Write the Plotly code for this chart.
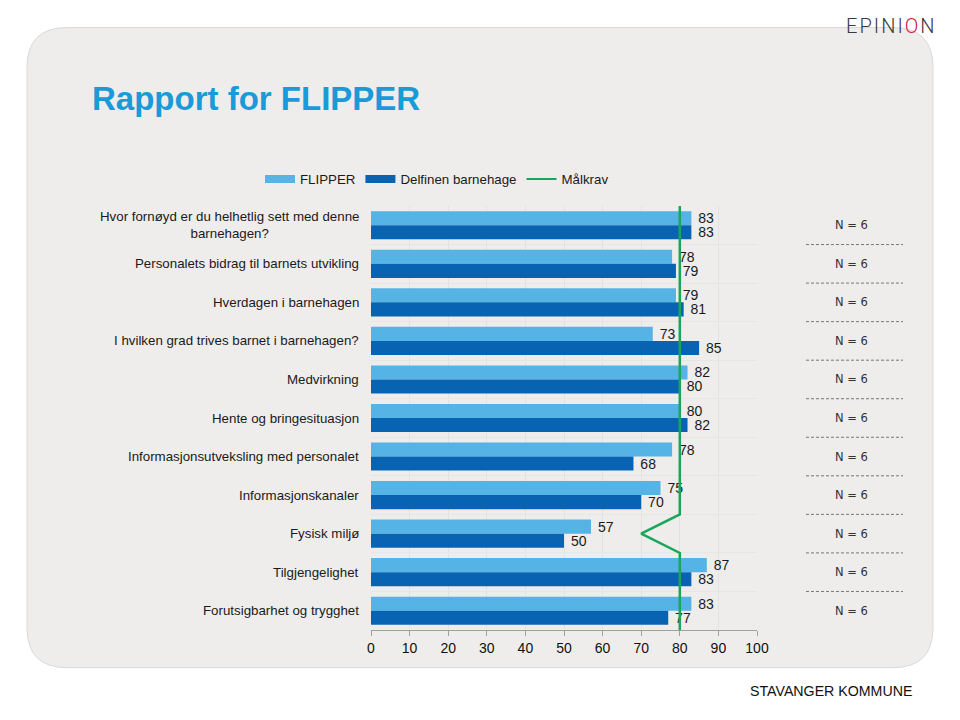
import plotly.graph_objects as go

# ---------------- data ----------------
categories = [
    "Hvor fornøyd er du helhetlig sett med denne<br>barnehagen?",
    "Personalets bidrag til barnets utvikling",
    "Hverdagen i barnehagen",
    "I hvilken grad trives barnet i barnehagen?",
    "Medvirkning",
    "Hente og bringesituasjon",
    "Informasjonsutveksling med personalet",
    "Informasjonskanaler",
    "Fysisk miljø",
    "Tilgjengelighet",
    "Forutsigbarhet og trygghet",
]
flipper = [83, 78, 79, 73, 82, 80, 78, 75, 57, 87, 83]
delfinen = [83, 79, 81, 85, 80, 82, 68, 70, 50, 83, 77]
malkrav = [80, 80, 80, 80, 80, 80, 80, 80, 70, 80, 80]
n_values = [6, 6, 6, 6, 6, 6, 6, 6, 6, 6, 6]
x_ticks = [0, 10, 20, 30, 40, 50, 60, 70, 80, 90, 100]

series_names = ["FLIPPER", "Delfinen barnehage", "Målkrav"]
title_text = "Rapport for FLIPPER"
footer_text = "STAVANGER KOMMUNE"

# ---------------- style ----------------
C_LIGHT = "#56B3E6"
C_DARK = "#0864B2"
C_GREEN = "#1BA55A"
FONT = "Liberation Sans, Arial, sans-serif"

W, H = 960, 720
L, R = 371, 757          # plot area pixel extents (x)
T, B = 205.7, 630.3      # plot area pixel extents (y)
PW, PH = R - L, B - T


def px(x):
    return (x - L) / PW


def py(y):
    return (B - y) / PH


ypos = list(range(len(categories)))

fig = go.Figure()

fig.add_trace(go.Bar(
    y=ypos, x=flipper, orientation="h", name=series_names[0],
    marker=dict(color=C_LIGHT, line=dict(width=0)),
    texttemplate="\u00a0%{x}", textposition="outside", cliponaxis=False,
    constraintext="none",
    textfont=dict(size=14, color="#1a1a1a", family=FONT),
    showlegend=False,
))
fig.add_trace(go.Bar(
    y=ypos, x=delfinen, orientation="h", name=series_names[1],
    marker=dict(color=C_DARK, line=dict(width=0)),
    texttemplate="\u00a0%{x}", textposition="outside", cliponaxis=False,
    constraintext="none",
    textfont=dict(size=14, color="#1a1a1a", family=FONT),
    showlegend=False,
))

# goal line: vertices at category centres and at band boundaries
line_x, line_y = [malkrav[0]], [-0.5]
for i, v in enumerate(malkrav):
    line_x.append(v)
    line_y.append(i)
    if i < len(malkrav) - 1:
        line_x.append(max(v, malkrav[i + 1]))
        line_y.append(i + 0.5)
line_x.append(malkrav[-1])
line_y.append(len(malkrav) - 0.5)

fig.add_trace(go.Scatter(
    x=line_x, y=line_y, mode="lines", name=series_names[2],
    line=dict(color=C_GREEN, width=2.5), showlegend=False,
))

# legend entries
for name, col, w in [(series_names[0], C_LIGHT, 8), (series_names[1], C_DARK, 8), (series_names[2], C_GREEN, 2)]:
    fig.add_trace(go.Scatter(x=[None], y=[None], mode="lines", name=name,
                             line=dict(color=col, width=w), showlegend=True))

shapes = []
# rounded background panel
x0, x1, y0, y1, r = 27, 933, 27, 668, 40


def P(x, y):
    return f"{px(x):.5f},{py(y):.5f}"


path = (f"M {P(x0 + r, y0)} L {P(x1 - r, y0)} Q {P(x1, y0)} {P(x1, y0 + r)} "
        f"L {P(x1, y1 - r)} Q {P(x1, y1)} {P(x1 - r, y1)} "
        f"L {P(x0 + r, y1)} Q {P(x0, y1)} {P(x0, y1 - r)} "
        f"L {P(x0, y0 + r)} Q {P(x0, y0)} {P(x0 + r, y0)} Z")
shapes.append(dict(type="path", path=path, xref="paper", yref="paper",
                   fillcolor="#EEEDEB", line=dict(color="#D9D9D9", width=1), layer="below"))

# dashed separators in N column
for i in range(len(categories) - 1):
    shapes.append(dict(type="line", xref="paper", yref="y",
                       x0=px(806), x1=px(903), y0=i + 0.5, y1=i + 0.5,
                       line=dict(color="#777777", width=1, dash="3px,2px")))

annotations = []
# category labels (centered multi-line, right anchored)
for i, c in enumerate(categories):
    annotations.append(dict(x=px(361), y=i, xref="paper", yref="y", text=c,
                            xanchor="right", yanchor="middle", align="center",
                            showarrow=False, font=dict(size=13.3, color="#1a1a1a", family=FONT)))
# N labels
for i, n in enumerate(n_values):
    annotations.append(dict(x=px(851), y=i, xref="paper", yref="y", text=f"N = {n}",
                            xanchor="center", yanchor="middle", showarrow=False,
                            font=dict(size=11.5, color="#333333", family="DejaVu Sans")))
# logo
annotations.append(dict(x=px(937), y=py(25), xref="paper", yref="paper",
                        text="E\u200aP\u200aI\u200aN\u200aI\u200a<span style='color:#C8203C'>O</span>\u200aN",
                        xanchor="right", yanchor="middle", showarrow=False,
                        font=dict(size=20, color="#3a3a3a", family="Roboto", weight=300)))
# footer
annotations.append(dict(x=px(831), y=py(691), xref="paper", yref="paper",
                        text=footer_text, xanchor="center", yanchor="middle", showarrow=False,
                        font=dict(size=14.2, color="#111111", family=FONT)))

fig.update_layout(
    width=W, height=H, autosize=False,
    margin=dict(l=L, r=W - R, t=T, b=H - B, pad=0),
    paper_bgcolor="white", plot_bgcolor="rgba(0,0,0,0)",
    barmode="group", bargap=0.27, bargroupgap=0,
    font=dict(family=FONT, size=13.3, color="#1a1a1a"),
    title=dict(text=title_text, x=92 / W, xanchor="left", xref="container",
               y=1 - 98 / H, yanchor="middle", yref="container",
               font=dict(size=33, color="#1A9AD6", family=FONT, weight="bold")),
    legend=dict(orientation="h", x=px(260), xanchor="left", y=py(179), yanchor="middle",
                font=dict(size=13.3, color="#1a1a1a", family=FONT),
                bgcolor="rgba(0,0,0,0)", itemwidth=30, tracegroupgap=0),
    xaxis=dict(range=[0, 100], tickmode="array", tickvals=x_ticks,
               showgrid=True, gridcolor="#E2E2E2", gridwidth=1, zeroline=False,
               showline=True, linecolor="#A0A0A0", linewidth=1,
               ticks="outside", ticklen=5, tickcolor="#A0A0A0",
               tickfont=dict(size=14, color="#111111", family=FONT), fixedrange=True),
    yaxis=dict(range=[len(categories) - 0.5, -0.5], tickmode="linear", tick0=0.5, dtick=1,
               showticklabels=False, showgrid=True, gridcolor="#E6E6E4", zeroline=False,
               showline=False, ticks="", fixedrange=True),
    shapes=shapes, annotations=annotations,
)

fig.write_html("out.html", config={"displayModeBar": False},
               post_script="document.body.style.margin='0';")
